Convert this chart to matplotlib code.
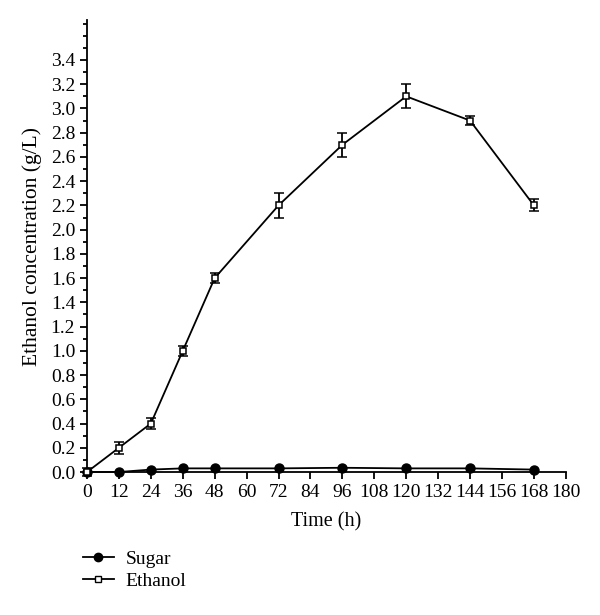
import numpy as np
import matplotlib.pyplot as plt
from matplotlib.lines import Line2D
from matplotlib.ticker import MultipleLocator

plt.rcParams['font.family'] = ['Liberation Serif', 'DejaVu Serif']

# Data
time_h = [0, 12, 24, 36, 48, 72, 96, 120, 144, 168]
sugar = [0.0, 0.0, 0.02, 0.03, 0.03, 0.03, 0.035, 0.03, 0.03, 0.02]
ethanol = [0.0, 0.2, 0.4, 1.0, 1.6, 2.2, 2.7, 3.1, 2.9, 2.2]
ethanol_err = [0.03, 0.05, 0.045, 0.04, 0.04, 0.1, 0.1, 0.1, 0.04, 0.05]

fig = plt.figure(figsize=(6, 6.15), dpi=100)
ax = fig.add_axes([0.145, 0.2325, 0.798, 0.735])

ax.plot(time_h, sugar, color='black', marker='o', markersize=6.5,
        linewidth=1.3, zorder=3, clip_on=False)
eb = ax.errorbar(time_h, ethanol, yerr=ethanol_err, color='black', marker='s',
                 markersize=4.5, markerfacecolor='white', markeredgewidth=1.1,
                 linewidth=1.3, elinewidth=1.3, capsize=3.5, capthick=1.3,
                 zorder=4)
for artist in eb.lines[0:1] + tuple(eb.lines[1]) + tuple(eb.lines[2]):
    artist.set_clip_on(False)

ax.set_xlim(0, 180)
ax.set_ylim(0, 3.73)
ax.xaxis.set_major_locator(MultipleLocator(12))
ax.yaxis.set_minor_locator(MultipleLocator(0.1))
ax.set_yticks(np.arange(0, 3.41, 0.2))
ax.yaxis.set_major_formatter(plt.FuncFormatter(lambda v, p: f'{v:.1f}'))

for s in ['top', 'right']:
    ax.spines[s].set_visible(False)
for s in ['left', 'bottom']:
    ax.spines[s].set_linewidth(1.3)

ax.tick_params(axis='both', which='major', direction='out', length=5,
               width=1.3, labelsize=14)
ax.tick_params(axis='y', which='minor', direction='out', length=3, width=1.3)

ax.set_xlabel('Time (h)', fontsize=14.5, labelpad=8)
ax.set_ylabel('Ethanol concentration (g/L)', fontsize=15.5, labelpad=6)

# legend below the axes, plain line + marker handles
handles = [
    Line2D([], [], color='black', marker='o', markersize=6, linewidth=1.3),
    Line2D([], [], color='black', marker='s', markersize=4.5,
           markerfacecolor='white', linewidth=1.3),
]
labels = ['Sugar', 'Ethanol']
fig.legend(handles, labels, loc='upper left', bbox_to_anchor=(0.125, 0.118),
           frameon=False, fontsize=14, handlelength=1.6, handletextpad=0.6,
           labelspacing=0.25, borderaxespad=0)

fig.savefig('out.png', dpi=100)
